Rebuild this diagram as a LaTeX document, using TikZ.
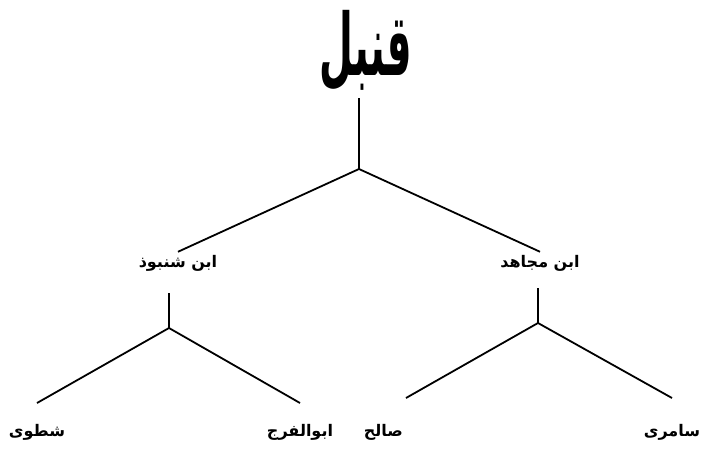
\documentclass[tikz,border=0pt]{standalone}
\usepackage{fontspec}
\newfontfamily\arabicfont[Script=Arabic]{DejaVu Sans}
\TeXXeTstate=1
\tikzset{
  person/.style={inner sep=3pt, font=\arabicfont\bfseries\fontsize{16}{19}\selectfont},
  leaf/.style={person, text height=13pt, text depth=5pt, inner ysep=20pt, anchor=north},
  rootname/.style={inner sep=0pt, font=\arabicfont\bfseries\fontsize{39}{44}\selectfont},
  branch/.style={line width=1.8pt},
}
\begin{document}
\begin{tikzpicture}[x=1pt,y=-1pt]
    \useasboundingbox (0,0) rectangle (702,456);
    % Root
    \node[rootname, anchor=south] (qunbul) at (366,91) {\scalebox{1}[2.2]{\beginR قنبل\endR}};
    \coordinate (j0) at (359,169);
    % Second level
    \node[person] (shanbudh) at (178,263) {\beginR ابن شنبوذ\endR};
    \node[person] (mujahid) at (540,263) {\beginR ابن مجاهد\endR};
    \coordinate (j1) at (169,328);
    \coordinate (j2) at (538,323);
    % Third level
    \node[leaf] (shatawi) at (37,403) {\beginR شطوی\endR};
    \node[leaf] (faraj) at (300,403) {\beginR ابوالفرج\endR};
    \node[leaf, inner ysep=25pt, anchor=north east] (salih) at (406,398) {\beginR صالح\endR};
    \node[leaf, inner ysep=25pt] (samiri) at (672,398) {\beginR سامری\endR};
    % Lines
    \draw[branch, shorten <=7pt] (qunbul.south -| j0) -- (j0);
    \draw[branch] (shanbudh.north) -- (j0) -- (mujahid.north);
    \draw[branch, shorten <=19pt] (shanbudh.south -| j1) -- (j1);
    \draw[branch, shorten <=14pt] (mujahid.south -| j2) -- (j2);
    \draw[branch] (shatawi.north) -- (j1) -- (faraj.north);
    \draw[branch] (salih.north east) -- (j2) -- (samiri.north);
\end{tikzpicture}
\end{document}
